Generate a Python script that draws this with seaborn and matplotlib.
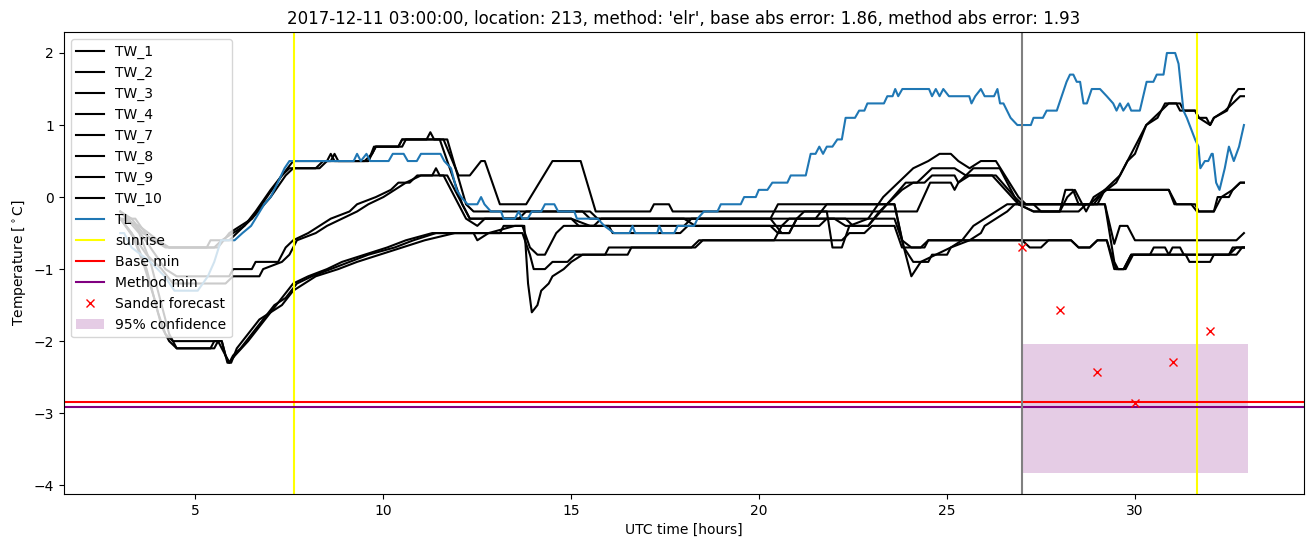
import pandas as pd
import matplotlib
matplotlib.use("Agg")
import matplotlib.pyplot as plt
import seaborn as sns

# (hour, temperature) readings of each series
tw_1 = [(3.0,-0.2),(3.3,-0.3),(3.6,-0.5),(4.2,-0.7),(5.5,-0.7),(5.7,-0.6),(6.0,-0.5),(6.3,-0.4),(6.6,-0.2),(7.0,0.1),
        (7.3,0.3),(7.6,0.5),(8.6,0.5),(8.7,0.6),(8.8,0.5),(9.6,0.5),(9.75,0.7),(10.4,0.7),(10.5,0.8),(11.15,0.8),
        (11.25,0.9),(11.35,0.8),(11.6,0.8),(12.0,0.3),(12.3,0.3),(12.6,0.5),(12.7,0.5),(13.1,-0.1),(13.8,-0.1),
        (14.5,0.5),(15.25,0.5),(15.65,-0.2),(17.1,-0.2),(17.2,-0.1),(17.6,-0.1),(17.7,-0.2),(24.2,-0.2),(24.55,0.2),
        (25.1,0.2),(25.2,0.1),(25.3,0.2),(25.6,0.3),(26.2,0.3),(26.9,-0.1),(27.3,-0.2),(28.0,-0.2),(28.15,0.1),
        (28.35,0.1),(28.5,-0.1),(29.0,-0.1),(29.2,0.1),(30.9,0.1),(31.05,-0.1),(31.5,-0.1),(31.65,-0.2),(32.1,-0.2),
        (32.3,0.0),(32.6,0.1),(32.8,0.2),(32.9,0.2)]
tw_2 = [(3.0,-0.3),(3.5,-0.4),(4.0,-0.6),(4.3,-0.7),(5.6,-0.7),(5.9,-0.5),(6.2,-0.4),(6.5,-0.3),(6.9,0.0),(7.3,0.3),
        (7.5,0.4),(8.3,0.4),(8.5,0.5),(8.6,0.6),(8.7,0.5),(9.5,0.5),(9.7,0.6),(9.8,0.7),(10.4,0.7),(10.5,0.8),
        (11.7,0.8),(12.2,-0.1),(12.4,-0.2),(15.5,-0.2),(15.7,-0.3),(20.3,-0.3),(20.5,-0.1),(23.6,-0.1),(23.8,-0.6),
        (24.05,-1.1),(24.3,-0.9),(24.7,-0.8),(25.1,-0.7),(25.4,-0.6),(25.7,-0.4),(26.0,-0.3),(26.3,-0.2),(26.6,-0.1),
        (29.2,-0.1),(29.45,-0.65),(29.6,-0.4),(29.8,-0.4),(30.0,-0.6),(32.7,-0.6),(32.9,-0.5)]
tw_3 = [(3.0,-0.3),(3.4,-0.3),(3.8,-0.6),(4.3,-0.7),(5.3,-0.7),(5.4,-0.6),(5.9,-0.6),(6.1,-0.5),(6.5,-0.3),(7.0,0.0),
        (7.4,0.3),(7.6,0.4),(8.2,0.4),(8.4,0.5),(9.6,0.5),(9.8,0.7),(10.5,0.7),(10.6,0.8),(11.5,0.8),(11.9,0.2),
        (12.1,-0.1),(12.3,-0.3),(15.0,-0.3),(15.2,-0.4),(15.6,-0.4),(15.8,-0.3),(18.0,-0.3),(18.3,-0.4),(20.3,-0.4),
        (20.5,-0.5),(20.8,-0.5),(21.0,-0.3),(21.2,-0.2),(21.8,-0.2),(21.95,-0.7),(22.2,-0.7),(22.4,-0.4),(22.9,-0.3),
        (23.3,0.0),(23.7,0.2),(24.1,0.4),(24.5,0.5),(24.8,0.6),(25.1,0.6),(25.3,0.5),(25.6,0.4),(25.9,0.5),(26.3,0.5),
        (26.9,0.0),(27.1,-0.1),(28.8,-0.1),(29.0,0.0),(29.5,0.2),(29.8,0.5),(30.0,0.6),(30.3,1.0),(30.6,1.1),(30.8,1.3),
        (31.1,1.3),(31.2,1.2),(31.6,1.2),(31.7,1.1),(31.9,1.1),(32.0,1.0),(32.1,1.1),(32.45,1.2),(32.6,1.4),(32.75,1.5),
        (32.9,1.5)]
tw_4 = [(3.0,-0.2),(3.4,-0.4),(3.8,-0.7),(4.2,-1.0),(4.5,-1.1),(5.9,-1.1),(6.0,-1.0),(6.5,-1.0),(6.6,-0.9),(7.2,-0.9),
        (7.4,-0.7),(7.6,-0.6),(8.0,-0.5),(8.3,-0.4),(8.6,-0.3),(9.1,-0.2),(9.3,-0.1),(9.8,0.0),(10.2,0.1),(10.4,0.2),
        (10.7,0.2),(10.9,0.3),(11.3,0.3),(11.4,0.4),(11.5,0.3),(11.7,0.3),(12.3,-0.3),(13.6,-0.3),(13.8,-0.2),
        (15.3,-0.2),(15.5,-0.3),(20.3,-0.3),(20.6,-0.5),(20.8,-0.5),(21.0,-0.3),(22.3,-0.3),(22.5,-0.4),(22.9,-0.4),
        (23.4,-0.1),(23.9,0.2),(24.2,0.2),(24.6,0.4),(25.2,0.4),(25.5,0.3),(25.7,0.4),(26.4,0.4),(26.9,-0.1),
        (27.3,-0.2),(28.5,-0.2),(28.7,-0.1),(28.9,-0.1),(29.2,0.1),(29.6,0.3),(29.9,0.6),(30.3,1.0),(30.7,1.2),
        (30.9,1.3),(31.2,1.3),(31.3,1.2),(31.6,1.2),(31.7,1.1),(32.0,1.0),(32.1,1.1),(32.4,1.2),(32.6,1.3),(32.8,1.4),
        (32.9,1.4)]
tw_7 = [(3.0,-0.3),(3.3,-0.5),(3.7,-0.8),(4.1,-1.0),(4.4,-1.2),(5.8,-1.2),(6.0,-1.1),(6.7,-1.1),(6.8,-1.0),(7.3,-0.9),
        (7.5,-0.8),(7.7,-0.6),(8.2,-0.5),(8.5,-0.4),(8.9,-0.3),(9.3,-0.2),(9.6,-0.1),(10.0,0.0),(10.3,0.1),(10.6,0.2),
        (11.0,0.3),(11.6,0.3),(12.2,-0.3),(12.5,-0.4),(12.7,-0.3),(15.0,-0.3),(15.5,-0.4),(18.0,-0.4),(18.2,-0.3),
        (22.0,-0.3),(22.3,-0.4),(22.9,-0.4),(23.2,-0.2),(23.8,0.1),(24.1,0.2),(24.4,0.2),(24.6,0.3),(25.2,0.3),
        (25.3,0.2),(25.5,0.3),(26.3,0.3),(26.8,0.0),(27.0,-0.1),(27.3,-0.1),(27.5,-0.2),(28.0,-0.2),(28.2,0.0),
        (28.4,0.1),(28.5,0.0),(28.7,-0.2),(28.9,0.0),(29.2,0.1),(30.9,0.1),(31.1,-0.1),(31.6,-0.1),(31.7,-0.2),
        (32.1,-0.2),(32.2,0.0),(32.5,0.0),(32.6,0.1),(32.8,0.2),(32.9,0.2)]
tw_8 = [(3.0,-0.3),(3.3,-0.5),(3.6,-0.9),(3.9,-1.4),(4.1,-1.8),(4.3,-2.0),(4.5,-2.1),(5.5,-2.1),(5.6,-2.0),(5.7,-2.0),
        (5.8,-2.2),(5.9,-2.3),(6.05,-2.2),(6.4,-2.0),(6.7,-1.8),(7.0,-1.6),(7.3,-1.5),(7.6,-1.3),(7.9,-1.2),(8.2,-1.1),
        (8.8,-1.0),(9.3,-0.9),(9.9,-0.8),(10.5,-0.7),(11.1,-0.6),(11.9,-0.5),(12.4,-0.5),(12.5,-0.6),(12.8,-0.5),
        (13.5,-0.4),(13.75,-0.4),(13.85,-1.2),(13.95,-1.6),(14.1,-1.5),(14.2,-1.3),(14.4,-1.2),(14.5,-1.1),(14.8,-1.0),
        (15.0,-0.9),(15.3,-0.8),(15.9,-0.8),(16.0,-0.7),(18.2,-0.7),(18.4,-0.6),(22.2,-0.6),(22.4,-0.5),(22.8,-0.5),
        (23.0,-0.4),(23.6,-0.4),(23.8,-0.7),(24.3,-0.7),(24.5,-0.6),(27.0,-0.6),(27.2,-0.7),(27.5,-0.7),(27.7,-0.6),
        (28.3,-0.6),(28.5,-0.7),(28.8,-0.7),(29.0,-0.6),(29.25,-0.6),(29.5,-1.0),(29.7,-1.0),(29.9,-0.8),(30.4,-0.8),
        (30.5,-0.7),(30.8,-0.7),(30.9,-0.8),(31.0,-0.7),(31.2,-0.7),(31.3,-0.8),(32.5,-0.8),(32.6,-0.7),(32.9,-0.7)]
tw_9 = [(3.0,-0.3),(3.4,-0.6),(3.7,-1.0),(4.0,-1.6),(4.2,-1.9),(4.4,-2.0),(5.6,-2.0),(5.7,-2.1),(5.8,-2.2),(5.9,-2.3),
        (6.0,-2.2),(6.2,-2.1),(6.5,-1.9),(6.8,-1.7),(7.1,-1.5),(7.4,-1.4),(7.7,-1.2),(8.1,-1.1),(8.6,-1.0),(9.1,-0.9),
        (9.6,-0.8),(10.3,-0.7),(10.8,-0.6),(11.4,-0.5),(13.7,-0.5),(13.9,-0.8),(14.0,-1.0),(14.3,-1.0),(14.5,-0.9),
        (14.9,-0.9),(15.1,-0.8),(16.5,-0.8),(16.6,-0.7),(18.3,-0.7),(18.5,-0.6),(20.4,-0.6),(20.6,-0.4),(20.8,-0.3),
        (21.5,-0.3),(21.8,-0.1),(23.6,-0.1),(23.85,-0.7),(24.1,-0.9),(24.5,-0.9),(24.6,-0.8),(25.0,-0.8),(25.1,-0.7),
        (25.6,-0.6),(25.9,-0.5),(26.0,-0.4),(26.3,-0.3),(26.6,-0.2),(26.8,-0.1),(29.2,-0.1),(29.45,-0.9),(29.55,-1.0),
        (29.75,-1.0),(29.95,-0.8),(31.35,-0.8),(31.45,-0.9),(32.0,-0.9),(32.1,-0.8),(32.7,-0.8),(32.85,-0.7),(32.9,-0.7)]
tw_10 = [(3.0,-0.2),(3.5,-0.5),(3.8,-0.9),(4.1,-1.5),(4.3,-1.9),(4.5,-2.1),(5.4,-2.1),(5.5,-2.0),(5.7,-2.0),(5.85,-2.3),
         (5.95,-2.3),(6.1,-2.1),(6.4,-1.9),(6.7,-1.7),(7.0,-1.6),(7.3,-1.4),(7.6,-1.2),(8.0,-1.1),(8.5,-1.0),(8.9,-0.9),
         (9.5,-0.8),(10.1,-0.7),(10.6,-0.6),(11.3,-0.5),(13.1,-0.5),(13.2,-0.4),(13.7,-0.4),(13.9,-0.7),(14.1,-0.8),
         (14.3,-0.8),(14.6,-0.5),(14.8,-0.4),(16.0,-0.4),(16.1,-0.5),(17.9,-0.5),(18.1,-0.4),(21.6,-0.4),(21.8,-0.3),
         (23.6,-0.3),(23.8,-0.6),(24.05,-0.7),(24.4,-0.7),(24.5,-0.6),(28.3,-0.6),(28.5,-0.7),(28.8,-0.7),(29.0,-0.6),
         (29.25,-0.6),(29.45,-1.0),(29.7,-1.0),(29.9,-0.8),(32.5,-0.8),(32.7,-0.7),(32.9,-0.7)]
tl = [(3.0,-0.5),(3.1,-0.5),(3.3,-0.7),(3.55,-0.8),(3.8,-0.9),(4.18,-1.1),(4.44,-1.3),(5.06,-1.3),(5.33,-1.1),(5.5,-0.9),
      (5.68,-0.6),(6.04,-0.6),(6.25,-0.5),(6.48,-0.4),(6.83,-0.1),(7.0,0.0),(7.19,0.2),(7.37,0.4),(7.5,0.5),(9.21,0.5),
      (9.3,0.6),(9.4,0.5),(9.55,0.6),(9.65,0.5),(10.14,0.5),(10.25,0.6),(10.54,0.6),(10.65,0.5),(10.89,0.5),(11.0,0.6),
      (11.52,0.6),(11.62,0.5),(11.8,0.4),(11.95,0.1),(12.07,0.0),(12.24,-0.1),(12.5,-0.1),(12.6,0.0),(12.69,-0.1),
      (12.86,-0.2),(13.13,-0.2),(13.2,-0.3),(13.5,-0.3),(13.6,-0.2),(13.7,-0.3),(13.84,-0.3),(13.95,-0.2),(14.2,-0.2),
      (14.3,-0.1),(14.55,-0.1),(14.65,-0.2),(15.08,-0.2),(15.15,-0.3),(15.7,-0.3),(15.88,-0.4),(16.14,-0.5),(16.55,-0.5),
      (16.63,-0.4),(16.7,-0.5),(17.29,-0.5),(17.34,-0.4),(17.42,-0.5),(17.74,-0.5),(17.83,-0.4),(18.27,-0.4),(18.36,-0.3),
      (18.53,-0.2),(18.89,-0.2),(18.98,-0.1),(19.51,-0.1),(19.6,0.0),(19.91,0.0),(19.99,0.1),(20.22,0.1),(20.35,0.2),
      (20.75,0.2),(20.84,0.3),(21.24,0.3),(21.37,0.6),(21.5,0.6),(21.6,0.7),(21.7,0.6),(21.8,0.7),(21.95,0.7),(22.08,0.8),
      (22.2,0.8),(22.3,1.1),(22.55,1.1),(22.66,1.2),(22.8,1.2),(22.88,1.3),(23.32,1.3),(23.41,1.4),(23.55,1.4),(23.62,1.5),
      (23.7,1.4),(23.81,1.5),(24.52,1.5),(24.6,1.4),(24.7,1.5),(24.8,1.4),(24.9,1.5),(25.05,1.4),(25.59,1.4),(25.65,1.3),
      (25.75,1.4),(25.9,1.5),(26.0,1.4),(26.25,1.4),(26.34,1.5),(26.41,1.3),(26.5,1.3),(26.69,1.1),(26.87,1.0),(27.23,1.0),
      (27.3,1.1),(27.55,1.1),(27.65,1.2),(27.92,1.2),(28.05,1.4),(28.18,1.6),(28.27,1.7),(28.36,1.7),(28.45,1.6),
      (28.54,1.6),(28.63,1.3),(28.72,1.3),(28.85,1.5),(29.07,1.5),(29.25,1.4),(29.42,1.3),(29.51,1.2),(29.6,1.3),
      (29.69,1.2),(29.82,1.3),(29.9,1.2),(30.13,1.2),(30.31,1.6),(30.49,1.6),(30.58,1.7),(30.76,1.7),(30.85,2.0),
      (31.07,2.0),(31.16,1.85),(31.29,1.2),(31.38,1.1),(31.6,0.8),(31.69,0.7),(31.74,0.4),(31.86,0.5),(31.95,0.5),
      (32.04,0.6),(32.07,0.6),(32.16,0.2),(32.25,0.1),(32.39,0.4),(32.5,0.7),(32.63,0.5),(32.77,0.7),(32.9,1.0)]

tw_names = ['TW_1', 'TW_2', 'TW_3', 'TW_4', 'TW_7', 'TW_8', 'TW_9', 'TW_10']
tw_series = [tw_1, tw_2, tw_3, tw_4, tw_7, tw_8, tw_9, tw_10]

sunrise_hours = [7.63, 31.64]
forecast_start = 27.0
base_min = -2.85
method_min = -2.92
sander_hours = [27, 28, 29, 30, 31, 32]
sander_temps = [-0.70, -1.57, -2.43, -2.86, -2.29, -1.86]
conf_hours = [27, 33]
conf_low = -3.83
conf_high = -2.04

title = "2017-12-11 03:00:00, location: 213, method: 'elr', base abs error: 1.86, method abs error: 1.93"

fig, ax = plt.subplots(figsize=(13.13, 5.47), dpi=100)
fig.subplots_adjust(left=0.0487, right=0.9932, top=0.9415, bottom=0.097)

for name, ser in zip(tw_names, tw_series):
    df = pd.DataFrame(ser, columns=['hour', 'temp'])
    sns.lineplot(data=df, x='hour', y='temp', color='black', label=name, ax=ax,
                 estimator=None, sort=False, linewidth=1.5)

df_tl = pd.DataFrame(tl, columns=['hour', 'temp'])
sns.lineplot(data=df_tl, x='hour', y='temp', color='#1f77b4', label='TL', ax=ax,
             estimator=None, sort=False, linewidth=1.5)

for i, h in enumerate(sunrise_hours):
    ax.axvline(h, color='yellow', label='sunrise' if i == 0 else None)
ax.axhline(base_min, color='red', label='Base min')
ax.axhline(method_min, color='purple', label='Method min')
ax.axvline(forecast_start, color='grey')
ax.plot(sander_hours, sander_temps, 'x', color='red', linestyle='none', label='Sander forecast')
ax.fill_between(conf_hours, [conf_low, conf_low], [conf_high, conf_high], color='purple', alpha=0.2,
                linewidth=0, label='95% confidence')

ax.set_xlabel('UTC time [hours]')
ax.set_ylabel(r'Temperature [$^\circ$C]')
ax.set_title(title)
ax.legend(loc='upper left')

fig.savefig('out.png', dpi=100)
